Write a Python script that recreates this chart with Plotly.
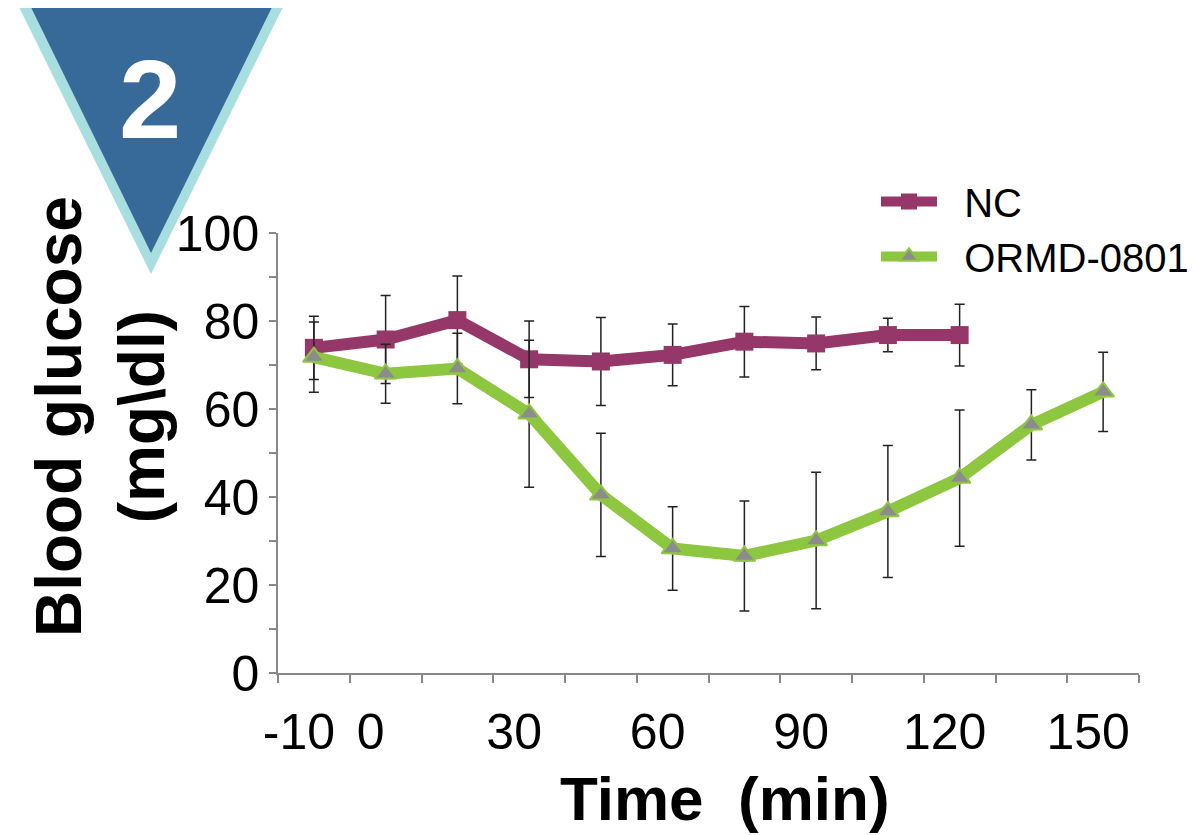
import plotly.graph_objects as go

# ---- data ----
time_labels = ["-10", "0", "15", "30", "45", "60", "75", "90", "105", "120", "135", "150"]
shown_labels = ["-10", "0", "", "30", "", "60", "", "90", "", "120", "", "150"]

nc_times = time_labels[:10]
nc_mean = [73.9, 75.8, 80.2, 71.3, 70.8, 72.3, 75.3, 74.9, 76.8, 76.8]
nc_err = [7.2, 10.0, 10.0, 8.7, 10.0, 7.0, 8.0, 6.0, 3.8, 7.0]

ormd_times = time_labels
ormd_mean = [71.8, 68.0, 69.2, 58.9, 40.5, 28.3, 26.6, 30.1, 36.7, 44.3, 56.4, 63.9]
ormd_err = [8.0, 6.7, 8.0, 16.7, 14.0, 9.5, 12.5, 15.5, 15.0, 15.5, 8.0, 9.0]

FONT = "Liberation Sans, Arial, sans-serif"
NC_COLOR = "#953768"
ORMD_COLOR = "#8DC63F"

fig = go.Figure()
fig.add_trace(go.Scatter(
    x=nc_times, y=nc_mean, name="\u00a0\u00a0NC", mode="lines+markers",
    line=dict(color=NC_COLOR, width=12),
    marker=dict(symbol="square", size=18, color=NC_COLOR),
    error_y=dict(type="data", array=nc_err, visible=True, color="#222222",
                 thickness=1.5, width=5),
))
fig.add_trace(go.Scatter(
    x=ormd_times, y=ormd_mean, name="\u00a0\u00a0ORMD-0801", mode="lines+markers",
    line=dict(color=ORMD_COLOR, width=12),
    marker=dict(symbol="triangle-up", size=19, color="#8C8C8C",
                line=dict(color=ORMD_COLOR, width=2)),
    error_y=dict(type="data", array=ormd_err, visible=True, color="#222222",
                 thickness=1.5, width=5),
))

# The page body has an 8px margin; screen coords s map to figure coords s-8.
OFF = 8
W, H = 1196 - OFF, 835 - OFF
PL, PR, PT, PB = 278, 1139, 233, 673  # plot area in screen pixels
L, R, T, B = PL - OFF, W - (PR - OFF), PT - OFF, H - (PB - OFF)
pw, ph = PR - PL, PB - PT

def px(x):
    return (x - PL) / pw

def py(y):
    return (PB - y) / ph

fig.update_layout(
    width=W, height=H,
    margin=dict(l=L, r=R, t=T, b=B, autoexpand=False),
    paper_bgcolor="white", plot_bgcolor="white",
    font=dict(family=FONT, color="black"),
    showlegend=True,
    legend=dict(x=px(876), y=py(169), xanchor="left", yanchor="top",
                font=dict(size=40, family=FONT, color="black"),
                bgcolor="rgba(0,0,0,0)", itemwidth=56, tracegroupgap=0),
    xaxis=dict(
        type="category", categoryorder="array", categoryarray=time_labels,
        tickmode="array", tickvals=time_labels, ticktext=shown_labels,
        tickson="boundaries", ticks="outside", ticklen=8, tickwidth=1.5,
        tickcolor="#888888", showline=True, linecolor="#888888", linewidth=1.5,
        showgrid=False, zeroline=False, automargin=False,
        tickangle=0, ticklabelshift=-15, ticklabelstandoff=14,
        tickfont=dict(size=50, family=FONT, color="black"),
        range=[-0.5, 11.5],
    ),
    yaxis=dict(
        range=[0, 100], tickmode="linear", tick0=0, dtick=20,
        ticks="outside", ticklen=7, tickwidth=1.5, tickcolor="#888888",
        showline=True, linecolor="#888888", linewidth=1.5,
        showgrid=False, zeroline=False, automargin=False,
        tickfont=dict(size=50, family=FONT, color="black"),
        minor=dict(dtick=10, ticks="outside", ticklen=7, tickwidth=1.5,
                   tickcolor="#888888", showgrid=False),
    ),
)

# axis titles
fig.add_annotation(xref="paper", yref="paper", x=px(725), y=py(798),
                   text="<b>Time\u00a0 (min)</b>", showarrow=False,
                   font=dict(size=62, family=FONT, color="black"),
                   xanchor="center", yanchor="middle")
fig.add_annotation(xref="paper", yref="paper", x=px(100), y=py(417),
                   text="<b>Blood glucose<br>(mg\\dl)</b>", showarrow=False,
                   textangle=-90,
                   font=dict(size=64, family=FONT, color="black"),
                   xanchor="center", yanchor="middle")

# corner banner
fig.add_shape(type="path", xref="paper", yref="paper", layer="above",
              path=f"M {px(13)} {py(-5)} L {px(289)} {py(-5)} L {px(151)} {py(274)} Z",
              fillcolor="#A9DEE0", line=dict(width=0))
fig.add_shape(type="path", xref="paper", yref="paper", layer="above",
              path=f"M {px(25)} {py(-5)} L {px(278)} {py(-5)} L {px(151)} {py(253)} Z",
              fillcolor="#376A99", line=dict(width=0))
fig.add_annotation(xref="paper", yref="paper", x=px(150), y=py(99),
                   text="<b>2</b>", showarrow=False,
                   font=dict(size=112, family=FONT, color="white"),
                   xanchor="center", yanchor="middle")

fig.write_html("out.html")
